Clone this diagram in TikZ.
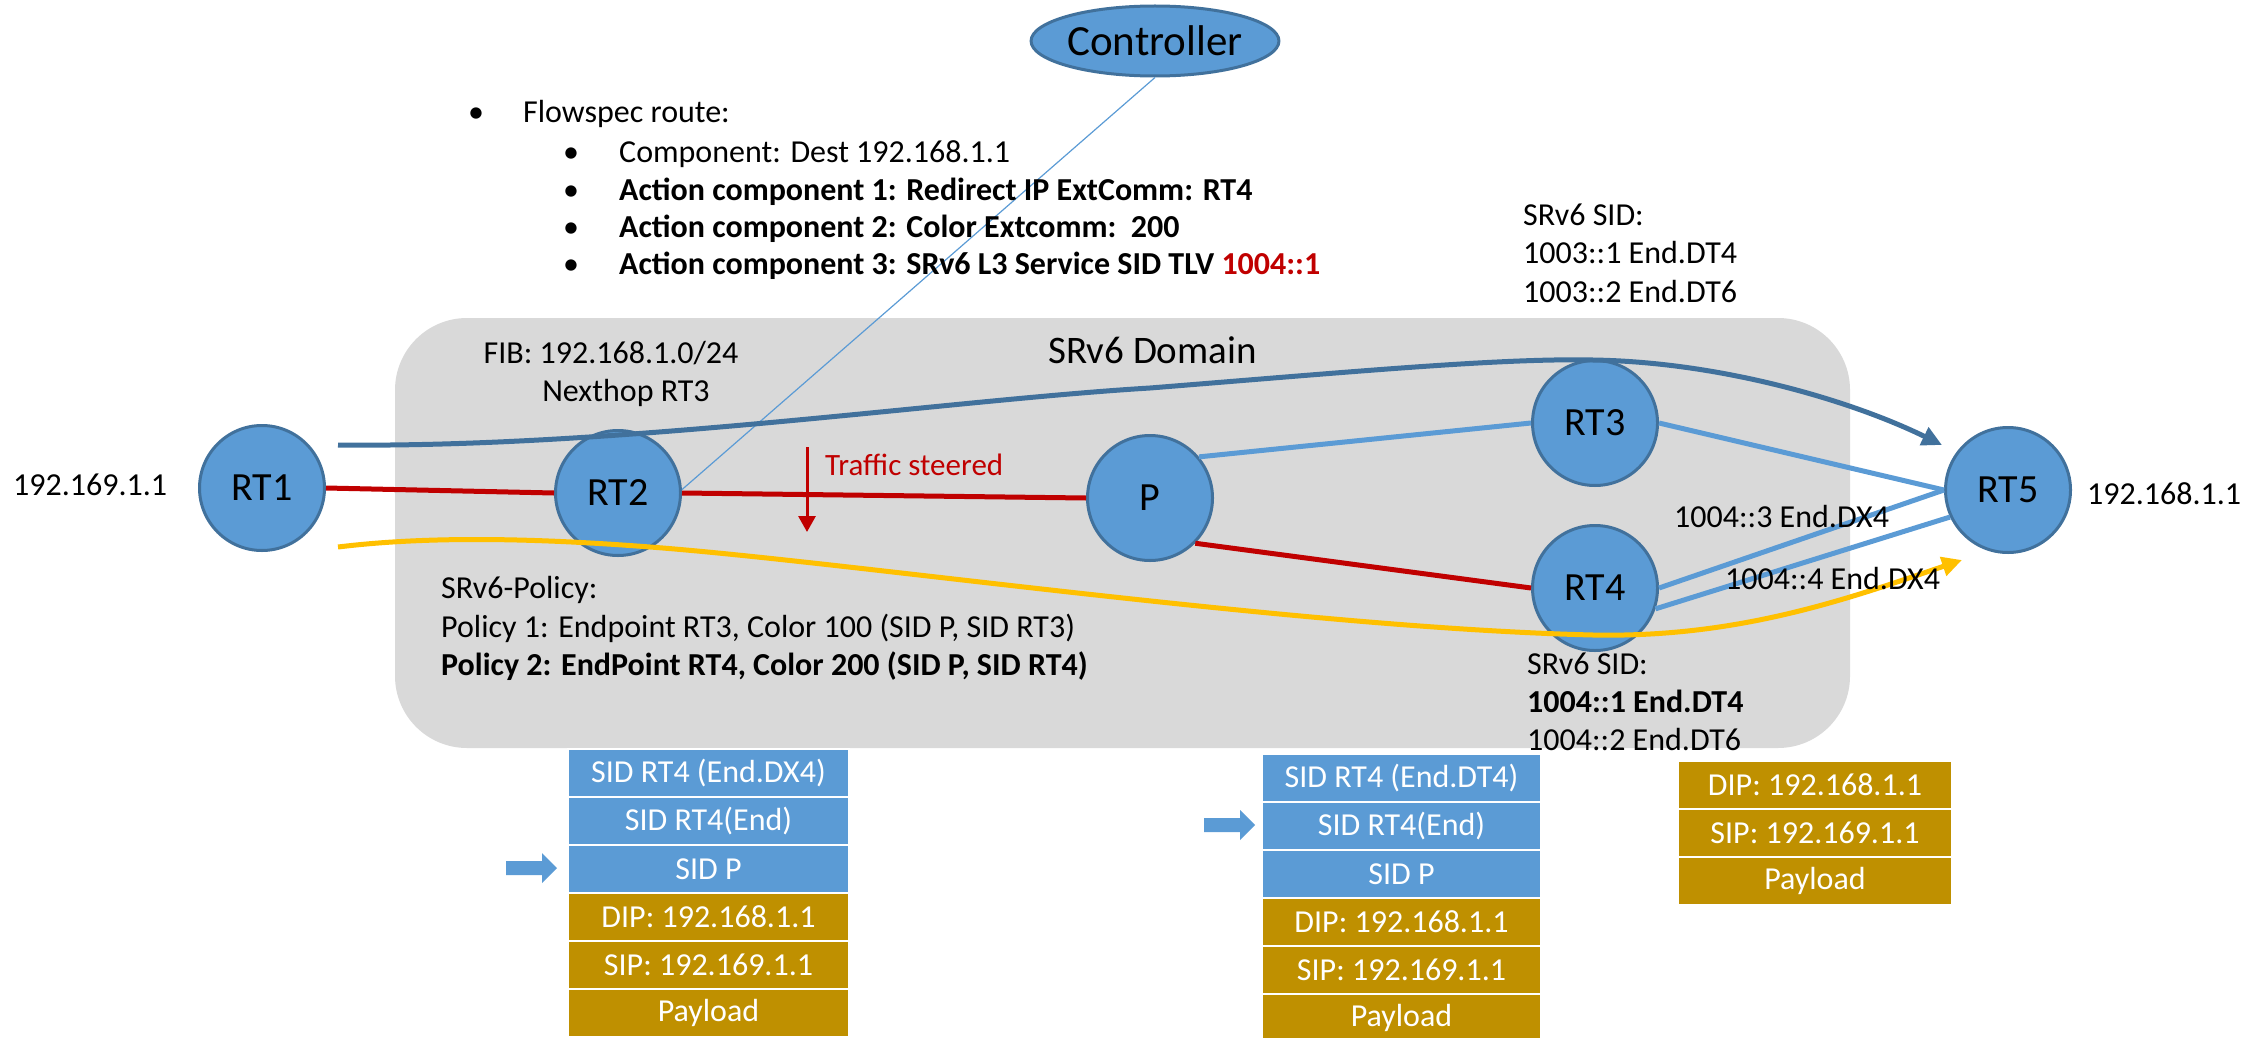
\documentclass[tikz,border=0pt]{standalone}
\usepackage{fontspec}
\setmainfont{Carlito}
\usetikzlibrary{arrows.meta,shapes.geometric}
\definecolor{nodeblue}{HTML}{5B9BD5}
\definecolor{nodeedge}{HTML}{41719C}
\definecolor{curveblue}{HTML}{41719C}
\definecolor{redline}{HTML}{C00000}
\definecolor{goldcell}{HTML}{BF9000}
\definecolor{yellowline}{HTML}{FFC000}
\definecolor{domaingray}{HTML}{D9D9D9}
\tikzset{
  router/.style={circle, fill=nodeblue, draw=nodeedge, line width=3pt, minimum size=125pt, inner sep=0pt, font=\fontsize{40}{48}\selectfont},
  lbl/.style={anchor=base west, inner sep=0pt, font=\fontsize{32}{38}\selectfont},
  lblc/.style={anchor=base, inner sep=0pt, font=\fontsize{32}{38}\selectfont},
  redlink/.style={draw=redline, line width=5pt},
  bluelink/.style={draw=nodeblue, line width=5pt},
  pathblue/.style={draw=curveblue, line width=5pt, -{Triangle[length=20pt,width=19pt]}},
  pathyellow/.style={draw=yellowline, line width=5pt, -{Triangle[length=20pt,width=19pt]}},
  sidcell/.style={rectangle, anchor=north west, fill=nodeblue, draw=white, line width=2pt, minimum height=48pt, text=white, font=\fontsize{32}{38}\selectfont, inner sep=0pt},
  ipcell/.style={sidcell, fill=goldcell},
}
\begin{document}
\begin{tikzpicture}[x=1pt,y=-1pt]
\useasboundingbox (0,0) rectangle (2258,1038);
% domain
\fill[domaingray, rounded corners=72pt] (395,318) rectangle (1850,748);

% controller
\node[ellipse, fill=nodeblue, draw=nodeedge, line width=3pt, minimum width=226pt, minimum height=70pt, inner sep=0pt, font=\fontsize{43}{50}\selectfont] (ctrl) at (1155,41) {Controller};

% routers
\node[router] (RT1) at (262,488) {RT1};
\node[router] (RT2) at (618,493) {RT2};
\node[router] (P) at (1150,498) {P};
\node[router] (RT3) at (1595,423) {RT3};
\node[router] (RT4) at (1595,588) {RT4};
\node[router] (RT5) at (2008,490) {RT5};

% links
\draw[redlink] (RT1.east) -- (RT2.west);
\draw[redlink] (RT2.east) -- (P.west);
\draw[redlink] (P.-45) -- (RT4.west);
\draw[bluelink] (P.40) -- (RT3.west);
\draw[bluelink] (RT3.east) -- (RT5.west);
\draw[bluelink] (RT4.east) -- (RT5.west);
\draw[bluelink] (RT4.-19) -- (RT5.205);
\draw[nodeblue, line width=1.2pt] (RT2.3) -- (ctrl.south);

% steering curves
\coordinate (bs) at (338,445);
\coordinate (be) at (1942,445);
\coordinate (ys) at (338,547);
\coordinate (ye) at (1962,560);
\draw[pathblue] (bs) .. controls (620,448) and (950,400) .. (1150,388)
  .. controls (1350,372) and (1500,358) .. (1593,360)
  .. controls (1720,362) and (1850,400) .. (be);
\draw[pathyellow] (ys) .. controls (420,537) and (520,537) .. (650,547)
  .. controls (850,562) and (1300,628) .. (1593,635)
  .. controls (1740,638) and (1850,598) .. (ye);

% traffic steered
\coordinate (ts) at (807,447);
\coordinate (te) at (807,532);
\draw[redline, line width=3pt, -{Triangle[length=16pt,width=17pt]}] (ts) -- (te);
\node[lbl, text=redline, font=\fontsize{31}{37}\selectfont] (steer) at (825,475) {Traffic steered};

% address labels
\node[lbl] (srcip) at (13,495) {192.169.1.1};
\node[lbl] (dstip) at (2087,504) {192.168.1.1};

% flowspec
\node[lbl] (b0) at (468,123) {•};
\node[lbl] (fs0) at (523,123) {Flowspec route:};
\node[lbl] (b1) at (563,162) {•};
\node[lbl] (fs1) at (619,162) {Component: Dest 192.168.1.1};
\node[lbl] (b2) at (563,200) {•};
\node[lbl] (fs2) at (619,200) {\bfseries Action component 1: Redirect IP ExtComm: RT4};
\node[lbl] (b3) at (563,237) {•};
\node[lbl] (fs3) at (619,237) {\bfseries Action component 2: Color Extcomm:\ \ 200};
\node[lbl] (b4) at (563,274) {•};
\node[lbl] (fs4) at (619,274) {\bfseries Action component 3: SRv6 L3 Service SID TLV \textcolor{redline}{1004::1}};

% RT3 SIDs
\node[lbl] (sid3a) at (1523,225) {SRv6 SID:};
\node[lbl] (sid3b) at (1523,263) {1003::1 End.DT4};
\node[lbl] (sid3c) at (1523,302) {1003::2 End.DT6};

% domain texts
\node[lbl, font=\fontsize{39}{47}\selectfont] (dom) at (1048,363) {SRv6 Domain};
\node[lblc] (fib1) at (611,363) {FIB: 192.168.1.0/24};
\node[lblc] (fib2) at (626,401) {Nexthop RT3};
\node[lbl] (pol0) at (441,598) {SRv6-Policy:};
\node[lbl] (pol1) at (441,637) {Policy 1: Endpoint RT3, Color 100 (SID P, SID RT3)};
\node[lbl] (pol2) at (441,675) {\bfseries Policy 2: EndPoint RT4, Color 200 (SID P, SID RT4)};
\node[lbl] (dx3) at (1674,527) {1004::3 End.DX4};
\node[lbl] (dx4) at (1725,589) {1004::4 End.DX4};
\node[lbl] (sid4a) at (1527,674) {SRv6 SID:};
\node[lbl] (sid4b) at (1527,712) {\bfseries 1004::1 End.DT4};
\node[lbl] (sid4c) at (1527,750) {1004::2 End.DT6};

% packet stack 1
\node[sidcell, minimum width=281pt] (a1) at (567,748) {SID RT4 (End.DX4)};
\node[sidcell, minimum width=281pt] (a2) at (567,796) {SID RT4(End)};
\node[sidcell, minimum width=281pt] (a3) at (567,844) {SID P};
\node[ipcell, minimum width=281pt] (a4) at (567,892) {DIP: 192.168.1.1};
\node[ipcell, minimum width=281pt] (a5) at (567,940) {SIP: 192.169.1.1};
\node[ipcell, minimum width=281pt] (a6) at (567,988) {Payload};
\fill[nodeblue] (506,861) -- (542,861) -- (542,853) -- (557,868) -- (542,883) -- (542,875) -- (506,875) -- cycle;

% packet stack 2
\node[sidcell, minimum width=279pt] (c1) at (1261,753) {SID RT4 (End.DT4)};
\node[sidcell, minimum width=279pt] (c2) at (1261,801) {SID RT4(End)};
\node[sidcell, minimum width=279pt] (c3) at (1261,849) {SID P};
\node[ipcell, minimum width=279pt] (c4) at (1261,897) {DIP: 192.168.1.1};
\node[ipcell, minimum width=279pt] (c5) at (1261,945) {SIP: 192.169.1.1};
\node[ipcell, minimum width=279pt] (c6) at (1261,993) {Payload};
\fill[nodeblue] (1204,818) -- (1240,818) -- (1240,810) -- (1255,825) -- (1240,840) -- (1240,832) -- (1204,832) -- cycle;

% packet stack 3
\node[ipcell, minimum width=274pt] (d1) at (1677,760) {DIP: 192.168.1.1};
\node[ipcell, minimum width=274pt] (d2) at (1677,808) {SIP: 192.169.1.1};
\node[ipcell, minimum width=274pt] (d3) at (1677,856) {Payload};
\end{tikzpicture}
\end{document}
